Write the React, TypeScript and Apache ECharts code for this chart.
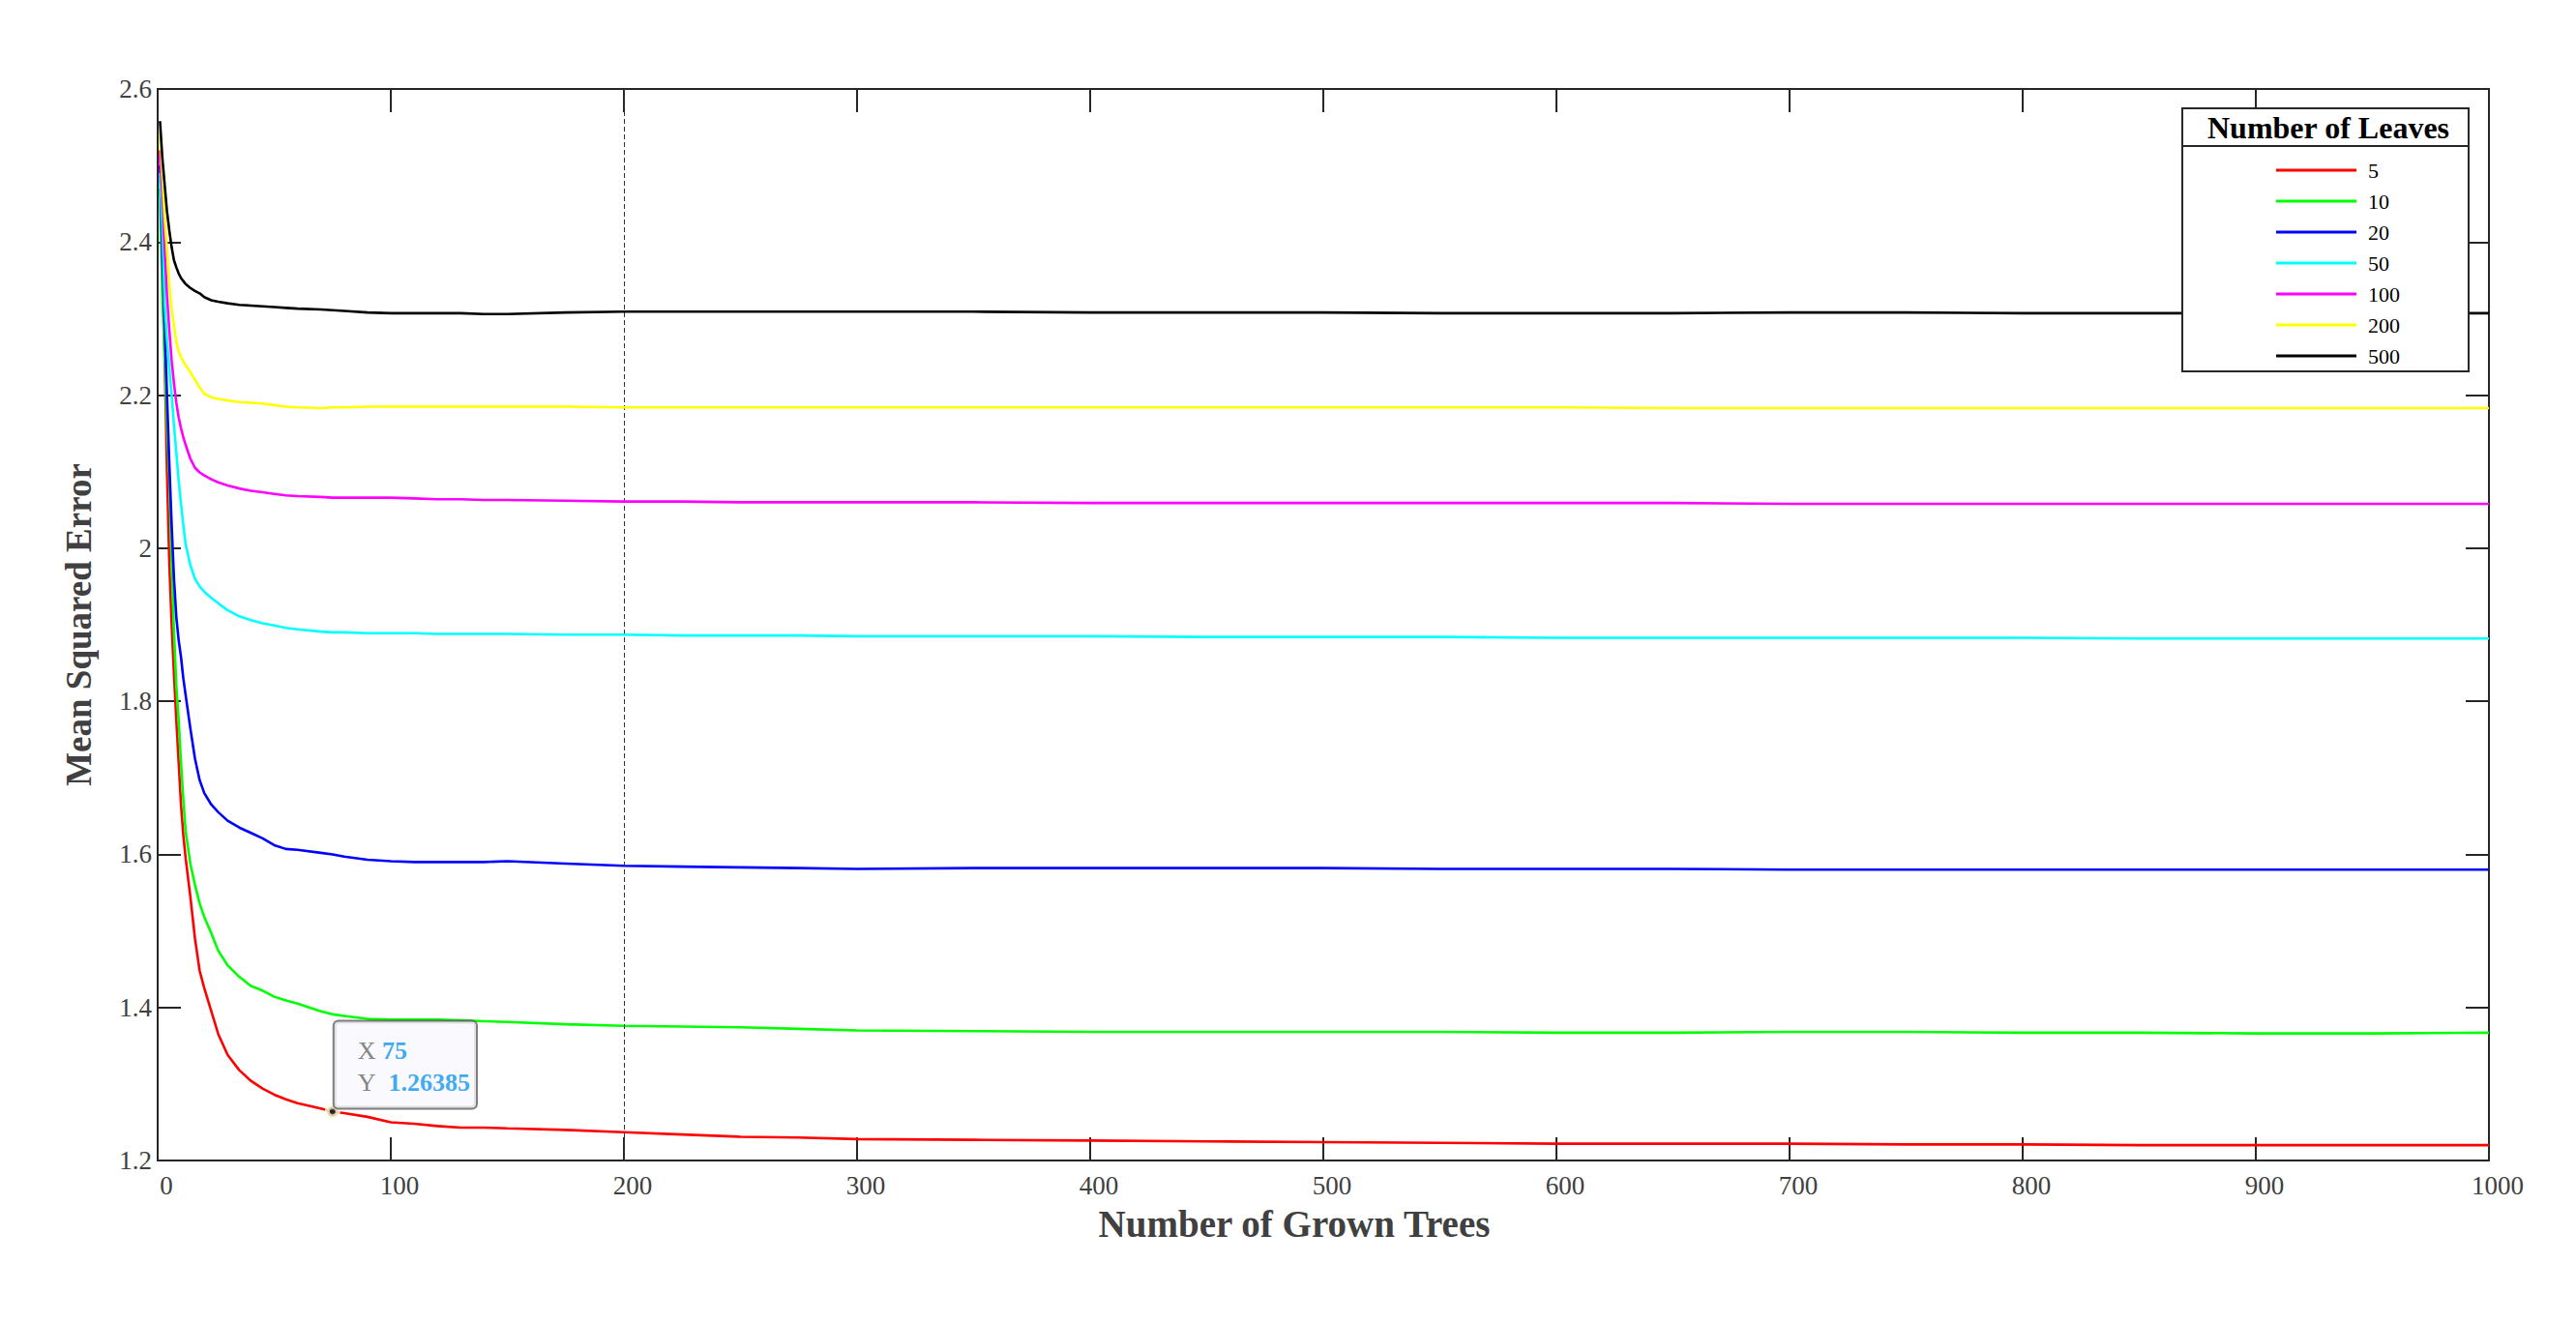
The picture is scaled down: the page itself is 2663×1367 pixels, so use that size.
import React, { useEffect, useRef } from "react";
import * as echarts from "echarts";

// Number of grown trees (x positions of the sampled points)
const trees = [
  1, 2, 3, 4, 5, 6, 7, 8, 9, 10,
  11, 12, 14, 16, 18, 20,
  23, 26, 30, 35, 40, 45, 50, 55, 60,
  70, 75, 80, 90, 100,
  110, 120, 130, 140, 150, 175, 200,
  225, 250, 275, 300, 350, 400, 450, 500,
  550, 600, 650, 700, 750, 800, 850, 900, 950, 1000,
];

const leafCounts = ["5", "10", "20", "50", "100", "200", "500"];

const mse5 = [
  2.52, 2.4, 2.25, 2.1, 1.98, 1.9, 1.835, 1.775, 1.72, 1.665,
  1.625, 1.595, 1.545, 1.49, 1.448, 1.425,
  1.395, 1.365, 1.338, 1.318, 1.304, 1.294, 1.286, 1.28, 1.275,
  1.268, 1.26385, 1.262, 1.257, 1.25,
  1.248, 1.245, 1.243, 1.243, 1.242, 1.24, 1.237,
  1.234, 1.231, 1.23, 1.228, 1.227, 1.226, 1.225, 1.224,
  1.223, 1.222, 1.222, 1.222, 1.221, 1.221, 1.22, 1.22, 1.22, 1.22,
];

const mse10 = [
  2.47, 2.33, 2.25, 2.16, 2.09, 1.98, 1.89, 1.82, 1.775, 1.72,
  1.672, 1.63, 1.588, 1.56, 1.536, 1.518,
  1.497, 1.474, 1.455, 1.44, 1.428, 1.422, 1.414, 1.409, 1.405,
  1.395, 1.391, 1.389, 1.385, 1.384,
  1.384, 1.384, 1.383, 1.382, 1.381, 1.378, 1.376,
  1.375, 1.374, 1.372, 1.37, 1.369, 1.368, 1.368, 1.368,
  1.368, 1.367, 1.367, 1.368, 1.368, 1.367, 1.367, 1.366, 1.366, 1.367,
];

const mse20 = [
  2.5, 2.38, 2.29, 2.2, 2.11, 2.03, 1.96, 1.91, 1.88, 1.858,
  1.83, 1.808, 1.765, 1.725, 1.697, 1.68,
  1.665, 1.655, 1.644, 1.635, 1.628, 1.621, 1.612, 1.607, 1.606,
  1.602, 1.6, 1.597, 1.593, 1.591,
  1.59, 1.59, 1.59, 1.59, 1.591, 1.588, 1.585,
  1.584, 1.583, 1.582, 1.581, 1.582, 1.582, 1.582, 1.582,
  1.581, 1.581, 1.581, 1.58, 1.58, 1.58, 1.58, 1.58, 1.58, 1.58,
];

const mse50 = [
  2.49, 2.42, 2.32, 2.27, 2.235, 2.2, 2.16, 2.125, 2.088, 2.058,
  2.03, 2.005, 1.978, 1.96, 1.95, 1.943,
  1.935, 1.928, 1.919, 1.911, 1.906, 1.902, 1.899, 1.896, 1.894,
  1.891, 1.89, 1.89, 1.889, 1.889,
  1.889, 1.888, 1.888, 1.888, 1.888, 1.887, 1.887,
  1.886, 1.886, 1.886, 1.885, 1.885, 1.885, 1.884, 1.884,
  1.884, 1.883, 1.883, 1.883, 1.883, 1.883, 1.882, 1.882, 1.882, 1.882,
];

const mse100 = [
  2.515, 2.46, 2.39, 2.33, 2.285, 2.245, 2.215, 2.19, 2.171, 2.157,
  2.145, 2.135, 2.117, 2.105, 2.099, 2.095,
  2.09, 2.086, 2.082, 2.078, 2.075, 2.073, 2.071, 2.069, 2.068,
  2.067, 2.066, 2.066, 2.066, 2.066,
  2.065, 2.064, 2.064, 2.063, 2.063, 2.062, 2.061,
  2.061, 2.06, 2.06, 2.06, 2.06, 2.059, 2.059, 2.059,
  2.059, 2.059, 2.059, 2.058, 2.058, 2.058, 2.058, 2.058, 2.058, 2.058,
];

const mse200 = [
  2.545, 2.49, 2.43, 2.39, 2.345, 2.312, 2.29, 2.27, 2.257, 2.25,
  2.244, 2.239, 2.23, 2.22, 2.21, 2.202,
  2.197, 2.195, 2.193, 2.191, 2.19, 2.189, 2.187, 2.185, 2.184,
  2.183, 2.184, 2.184, 2.185, 2.185,
  2.185, 2.185, 2.185, 2.185, 2.185, 2.185, 2.184,
  2.184, 2.184, 2.184, 2.184, 2.184, 2.184, 2.184, 2.184,
  2.184, 2.184, 2.183, 2.183, 2.183, 2.183, 2.183, 2.183, 2.183, 2.183,
];

const mse500 = [
  2.558, 2.51, 2.475, 2.44, 2.415, 2.393, 2.376, 2.367, 2.359, 2.353,
  2.349, 2.345, 2.34, 2.336, 2.333, 2.328,
  2.324, 2.322, 2.32, 2.318, 2.317, 2.316, 2.315, 2.314, 2.313,
  2.312, 2.311, 2.31, 2.308, 2.307,
  2.307, 2.307, 2.307, 2.306, 2.306, 2.308, 2.309,
  2.309, 2.309, 2.309, 2.309, 2.309, 2.308, 2.308, 2.308,
  2.307, 2.307, 2.307, 2.308, 2.308, 2.307, 2.307, 2.307, 2.307, 2.307,
];

const allSeries = [mse5, mse10, mse20, mse50, mse100, mse200, mse500];
const lineColors = ["#FF0000", "#00FF00", "#0000FF", "#00FFFF", "#FF00FF", "#FFFF00", "#000000"];

const cursorTrees = 200;
const datatipX = 75;
const datatipY = 1.26385;

const FONT = "Liberation Serif";
const AXIS_COLOR = "#262626";
const LABEL_COLOR = "#404040";

export default function App() {
  const ref = useRef<HTMLDivElement>(null);

  useEffect(() => {
    const chart = echarts.init(ref.current as HTMLDivElement, null, { renderer: "svg" });

    const lineSeries: any[] = allSeries.map((vals, i) => ({
      name: leafCounts[i],
      type: "line",
      data: trees.map((t, j) => [t, vals[j]]),
      symbol: "none",
      showSymbol: false,
      lineStyle: { color: lineColors[i], width: 2.6 },
      itemStyle: { color: lineColors[i] },
      emphasis: { disabled: true },
      z: 2 + i,
    }));

    lineSeries[0].markLine = {
      silent: true,
      symbol: ["none", "none"],
      label: { show: false },
      lineStyle: { type: [5, 3], color: "#333333", width: 1 },
      data: [{ xAxis: cursorTrees }],
    };

    const datatip = {
      name: "datatip",
      type: "scatter",
      data: [[datatipX, datatipY]],
      symbol: "circle",
      symbolSize: 11,
      itemStyle: { color: "#1a1a1a", borderColor: "#FFFCDC", borderWidth: 5 },
      emphasis: { disabled: true },
      z: 30,
      label: {
        show: true,
        position: [10, 4],
        align: "left",
        verticalAlign: "bottom",
        formatter: () => `{l|X} {v|${datatipX}}\n{l|Y}  {v|${datatipY}}`,
        backgroundColor: "#F8F8FE",
        borderColor: "#5E5E5E",
        borderWidth: 2,
        borderRadius: 4,
        padding: [14, 6, 9, 24],
        fontFamily: FONT,
        fontSize: 26,
        color: "#666666",
        rich: {
          l: { fontFamily: FONT, fontSize: 26, color: "#666666", lineHeight: 33 },
          v: { fontFamily: FONT, fontSize: 26, fontWeight: "bold", color: "#0A96F0", lineHeight: 33 },
        },
      },
    };

    const axisLine = { show: true, onZero: false, lineStyle: { color: AXIS_COLOR, width: 2 } };
    const axisTick = { show: true, inside: true, length: 24, lineStyle: { color: AXIS_COLOR, width: 2 } };
    const plain = (v: number) => String(Math.round(v * 1000) / 1000);

    chart.setOption({
      animation: false,
      backgroundColor: "#ffffff",
      grid: { left: 163, right: 90, top: 92, bottom: 167, containLabel: false },
      xAxis: [
        {
          type: "value",
          min: 0,
          max: 1000,
          interval: 100,
          position: "bottom",
          axisLine,
          axisTick,
          splitLine: { show: false },
          axisLabel: { margin: 12, fontFamily: FONT, fontSize: 27, color: LABEL_COLOR, padding: [0, 0, 0, 18], formatter: plain },
          name: "Number of Grown Trees",
          nameLocation: "middle",
          nameGap: 46,
          nameTextStyle: { fontFamily: FONT, fontSize: 39, fontWeight: "bold", color: LABEL_COLOR, padding: [0, 60, 0, 0] },
        },
        {
          type: "value",
          min: 0,
          max: 1000,
          interval: 100,
          position: "top",
          axisLine,
          axisTick,
          splitLine: { show: false },
          axisLabel: { show: false },
        },
      ],
      yAxis: [
        {
          type: "value",
          min: 1.2,
          max: 2.6,
          interval: 0.2,
          position: "left",
          axisLine,
          axisTick,
          splitLine: { show: false },
          axisLabel: { margin: 6, fontFamily: FONT, fontSize: 27, color: LABEL_COLOR, formatter: plain },
          name: "Mean Squared Error",
          nameLocation: "middle",
          nameGap: 63,
          nameTextStyle: { fontFamily: FONT, fontSize: 37, fontWeight: "bold", color: LABEL_COLOR },
        },
        {
          type: "value",
          min: 1.2,
          max: 2.6,
          interval: 0.2,
          position: "right",
          axisLine,
          axisTick,
          splitLine: { show: false },
          axisLabel: { show: false },
        },
      ],
      legend: {
        data: leafCounts,
        orient: "vertical",
        left: 2348,
        top: 160,
        itemWidth: 83,
        itemHeight: 3,
        itemGap: 10,
        icon: "rect",
        selectedMode: false,
        z: 200,
        textStyle: { fontFamily: FONT, fontSize: 22, color: "#000000", lineHeight: 22, padding: [0, 0, 0, 7] },
      },
      graphic: [
        {
          type: "rect",
          z: 100,
          shape: { x: 2256, y: 112, width: 296, height: 272 },
          style: { fill: "#ffffff", stroke: AXIS_COLOR, lineWidth: 2 },
        },
        {
          type: "line",
          z: 101,
          shape: { x1: 2256, y1: 151, x2: 2552, y2: 151 },
          style: { stroke: AXIS_COLOR, lineWidth: 2 },
        },
        {
          type: "text",
          z: 101,
          x: 2407,
          y: 132,
          style: {
            text: "Number of Leaves",
            font: `bold 32px "${FONT}"`,
            fill: "#000000",
            textAlign: "center",
            textVerticalAlign: "middle",
          },
        },
      ],
      series: [...lineSeries, datatip],
    });

    return () => chart.dispose();
  }, []);

  return (
    <div
      ref={ref}
      style={{ position: "fixed", left: 0, top: 0, width: 2663, height: 1367, background: "#ffffff" }}
    />
  );
}
